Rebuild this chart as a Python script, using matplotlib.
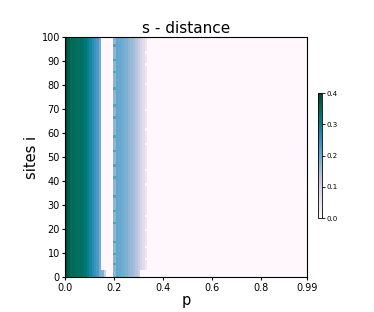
import matplotlib
matplotlib.use("Agg")
import matplotlib.pyplot as plt
import numpy as np

# p grid 0.00 .. 0.99, sites 0 .. 99
p_values = np.round(np.arange(0, 1.0, 0.01), 2)
n_sites = 100

# distance read per p column (same for every site), rest is 0
band_profile = [0.40, 0.37, 0.35, 0.35, 0.345, 0.34, 0.34, 0.335, 0.32, 0.30,
                0.28, 0.26, 0.245, 0.23, 0.19, 0.0, 0.0, 0.0, 0.0, 0.0,
                0.17, 0.205, 0.20, 0.195, 0.19, 0.18, 0.17, 0.16, 0.15, 0.13,
                0.11, 0.09, 0.07, 0.04]

# low sites where the first band reaches further and the second is shorter
bottom_rows = [0, 1, 2]
bottom_extra = {15: 0.18, 16: 0.10}
bottom_cut = [31, 32, 33]

# sites where the edge columns of the second band differ
dark_left_rows = [5, 9, 14, 22, 27, 33, 41, 46, 52, 58, 66, 71, 78, 85, 90, 96]
faded_right_rows = [7, 12, 19, 25, 38, 44, 55, 61, 69, 80, 88, 93]

dist = np.zeros((n_sites, len(p_values)))
dist[:, :len(band_profile)] = band_profile
for r in bottom_rows:
    for c, v in bottom_extra.items():
        dist[r, c] = v
    dist[r, bottom_cut] = 0.0
for r in dark_left_rows:
    dist[r, 20] = 0.22
for r in faded_right_rows:
    dist[r, 33] = 0.0

fig = plt.figure(figsize=(3.74, 3.12), dpi=100)
ax = fig.add_axes([0.175, 0.112, 0.647, 0.768])
im = ax.imshow(dist, cmap="PuBuGn", vmin=0, vmax=0.4, origin="lower",
               aspect="auto", extent=[0, 0.99, 0, 100], interpolation="nearest")
ax.set_title("s - distance", fontsize=11, pad=3)
ax.set_xlabel("p", fontsize=10.5, labelpad=0)
ax.set_ylabel("sites i", fontsize=10.5, labelpad=2)
ax.set_xticks([0.0, 0.2, 0.4, 0.6, 0.8, 0.99])
ax.set_xticklabels(["0.0", "0.2", "0.4", "0.6", "0.8", "0.99"])
ax.set_yticks(np.arange(0, 101, 10))
ax.tick_params(labelsize=7, length=2.5, pad=1.5)

cax = fig.add_axes([0.850, 0.301, 0.0107, 0.40])
cb = fig.colorbar(im, cax=cax)
cb.set_ticks([0.0, 0.1, 0.2, 0.3, 0.4])
cb.ax.tick_params(labelsize=5, length=2, pad=1, width=0.6)
cb.outline.set_linewidth(0.6)

fig.savefig("out.png", dpi=100)
